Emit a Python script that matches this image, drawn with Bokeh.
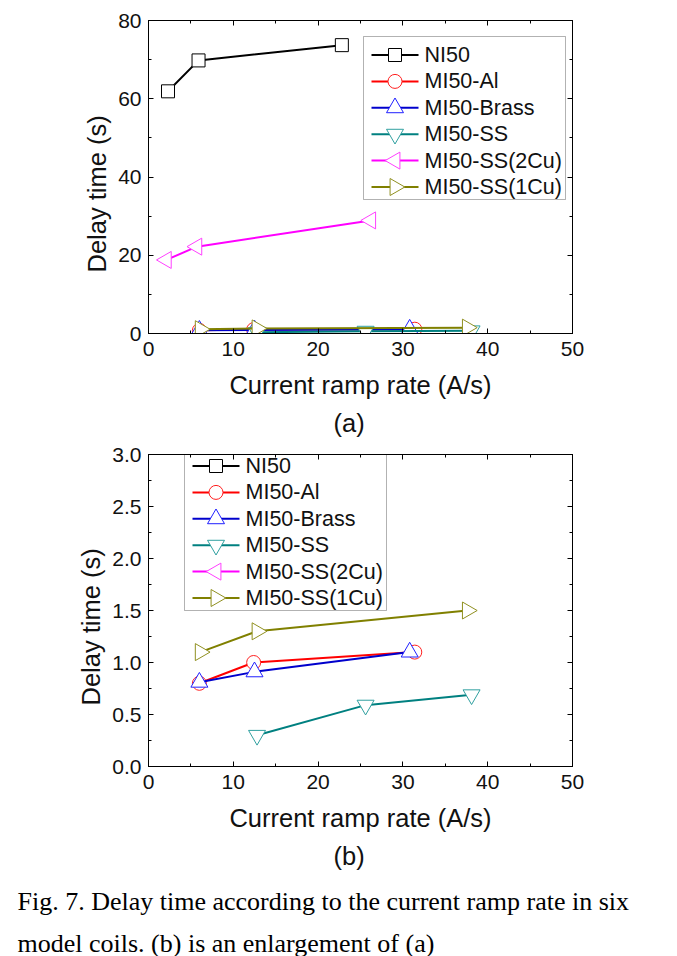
import math
from bokeh.plotting import figure
from bokeh.models import (Range1d, LinearAxis, SingleIntervalTicker, NumeralTickFormatter,
                          Title, BoxAnnotation)
from bokeh.layouts import column
from bokeh.core.properties import value
from bokeh.embed import file_html
from bokeh.resources import INLINE

# ---------------- data ----------------
x_label = "Current ramp rate (A/s)"
y_label = "Delay time (s)"
panel_tags = ["(a)", "(b)"]
caption_lines = ["Fig. 7. Delay time according to the current ramp rate in six",
                 "model coils. (b) is an enlargement of (a)"]

series_names = ["NI50", "MI50-Al", "MI50-Brass", "MI50-SS", "MI50-SS(2Cu)", "MI50-SS(1Cu)"]

ni50_x = [2.3, 5.9, 22.8]
ni50_y = [61.9, 69.8, 73.7]
al_x = [6.0, 12.4, 31.4]
al_y = [0.80, 1.00, 1.10]
brass_x = [6.0, 12.5, 30.8]
brass_y = [0.81, 0.91, 1.10]
ss_x = [12.8, 25.6, 38.1]
ss_y = [0.30, 0.59, 0.69]
ss2cu_x = [2.1, 5.7, 26.2]
ss2cu_y = [18.8, 22.2, 28.9]
ss1cu_x = [6.1, 12.8, 37.6]
ss1cu_y = [1.10, 1.30, 1.50]

series_x = [ni50_x, al_x, brass_x, ss_x, ss2cu_x, ss1cu_x]
series_y = [ni50_y, al_y, brass_y, ss_y, ss2cu_y, ss1cu_y]

# ---------------- styles ----------------
line_colors = ["#000000", "#FF0000", "#0000CC", "#008080", "#FF00FF", "#808000"]
marker_colors = ["#000000", "#FF2020", "#2020FF", "#30A0A0", "#FF40FF", "#909020"]
markers = ["square", "circle", "triangle", "inverted_triangle", "triangle", "triangle"]
marker_angles = [0, 0, 0, 0, math.pi / 2, -math.pi / 2]
marker_sizes = [13, 14, 17, 17, 17, 17]

SANS = "Liberation Sans"
SERIF = "Liberation Serif"

FRAME_LEFT = 148
FRAME_W = 424
X_END = 50


def style_axis(ax, labels=True, fmt=None, standoff=8):
    ax.axis_line_color = "black"
    ax.axis_line_width = 1
    ax.major_tick_in = 5
    ax.major_tick_out = 0
    ax.minor_tick_in = 3
    ax.minor_tick_out = 0
    ax.major_tick_line_color = "black"
    ax.minor_tick_line_color = "black"
    ax.major_label_text_font = SANS
    ax.major_label_text_font_size = "21px"
    ax.major_label_text_color = "#111111"
    ax.major_label_standoff = standoff
    ax.axis_label_text_font = SANS
    ax.axis_label_text_font_size = "25.5px"
    ax.axis_label_text_font_style = "normal"
    ax.axis_label_text_color = "#111111"
    if fmt is not None:
        ax.formatter = fmt
    if not labels:
        ax.major_label_text_font_size = "0px"
        ax.major_label_text_color = None


def make_panel(y_end, y_int, y_fmt, frame_top, frame_h, legend_box, tag,
               min_top, min_bottom, caption=None):
    frame_bottom = frame_top + frame_h

    def to_data(px, py):
        return ((px - FRAME_LEFT) / FRAME_W * X_END, y_end * (frame_bottom - py) / frame_h)

    p = figure(frame_width=FRAME_W, frame_height=frame_h,
               x_range=Range1d(0, X_END), y_range=Range1d(0, y_end),
               x_axis_type=None, y_axis_type=None,
               output_backend="svg", toolbar_location=None,
               min_border_left=FRAME_LEFT, min_border_right=105,
               min_border_top=min_top, min_border_bottom=min_bottom)
    p.outline_line_color = "black"
    p.outline_line_width = 1
    p.background_fill_color = "white"
    p.border_fill_color = "white"

    xt = SingleIntervalTicker(interval=10, num_minor_ticks=2)
    yt = SingleIntervalTicker(interval=y_int, num_minor_ticks=2)

    xb = LinearAxis(ticker=xt, axis_label=x_label)
    style_axis(xb, standoff=8)
    xb.axis_label_standoff = 12
    p.add_layout(xb, "below")
    xa = LinearAxis(ticker=xt)
    style_axis(xa, labels=False)
    p.add_layout(xa, "above")

    yl = LinearAxis(ticker=yt)
    style_axis(yl, fmt=y_fmt, standoff=7)
    p.add_layout(yl, "left")
    yr = LinearAxis(ticker=yt)
    style_axis(yr, labels=False)
    p.add_layout(yr, "right")
    # y label as a left-side title so that it can sit a little below centre, as in the original
    ytitle = Title(text=y_label, align="left", offset=61, text_font=SANS,
                   text_font_size="25.5px", text_font_style="normal", text_color="#111111",
                   standoff=10)
    p.add_layout(ytitle, "left")

    # data series
    for i, name in enumerate(series_names):
        p.line(series_x[i], series_y[i], line_color=line_colors[i], line_width=2)
        p.scatter(series_x[i], series_y[i], marker=markers[i], size=marker_sizes[i],
                  angle=marker_angles[i], line_color=marker_colors[i], line_width=1,
                  fill_color="white")

    # legend (drawn by hand so that the rotated triangles show)
    L, T, R, B = legend_box
    lx0, ly0 = to_data(L, B)
    lx1, ly1 = to_data(R, T)
    box_fill = BoxAnnotation(left=lx0, right=lx1, bottom=ly0, top=ly1,
                             fill_color="white", fill_alpha=1.0,
                             line_color=None, level="underlay")
    p.add_layout(box_fill)
    box_line = BoxAnnotation(left=lx0, right=lx1, bottom=ly0, top=ly1,
                             fill_alpha=0.0, line_color="black", line_width=1,
                             level="overlay")
    p.add_layout(box_line)
    row_h = (B - T - 31) / 5.0
    for i, name in enumerate(series_names):
        cy = T + 18.5 + i * row_h
        xa0, yy = to_data(L + 8, cy)
        xa1, _ = to_data(L + 55, cy)
        xm, _ = to_data(L + 31.5, cy)
        xtx, _ = to_data(L + 61, cy)
        p.line([xa0, xa1], [yy, yy], line_color=line_colors[i], line_width=2)
        p.scatter([xm], [yy], marker=markers[i], size=marker_sizes[i],
                  angle=marker_angles[i], line_color=marker_colors[i], line_width=1,
                  fill_color="white")
        p.text([xtx], [yy], text=[name], text_font=value(SANS), text_font_size="21.5px",
               text_baseline="middle", text_align="left", text_color="#111111")

    t = Title(text=tag, align="left", offset=185, text_font=SANS, text_font_size="25.5px",
              text_font_style="normal", text_color="#111111", standoff=10)
    p.add_layout(t, "below")

    if caption:
        for k, line in enumerate(caption):
            ct = Title(text=line, align="left", offset=17 - FRAME_LEFT, text_font=SERIF,
                       text_font_size="26px", text_font_style="normal", text_color="black",
                       standoff=(21 if k == 0 else 0))
            p.add_layout(ct, "below")
    return p


p_top = make_panel(80, 20, NumeralTickFormatter(format="0"), 20, 313,
                   (363, 36, 565, 199), panel_tags[0], 20, 107)
p_bot = make_panel(3.0, 0.5, NumeralTickFormatter(format="0.0"), 453, 312,
                   (184, 446, 386, 609), panel_tags[1], 13, 191, caption=caption_lines)

layout = column(p_top, p_bot, spacing=0)
open("out.html", "w").write(file_html(layout, INLINE))
